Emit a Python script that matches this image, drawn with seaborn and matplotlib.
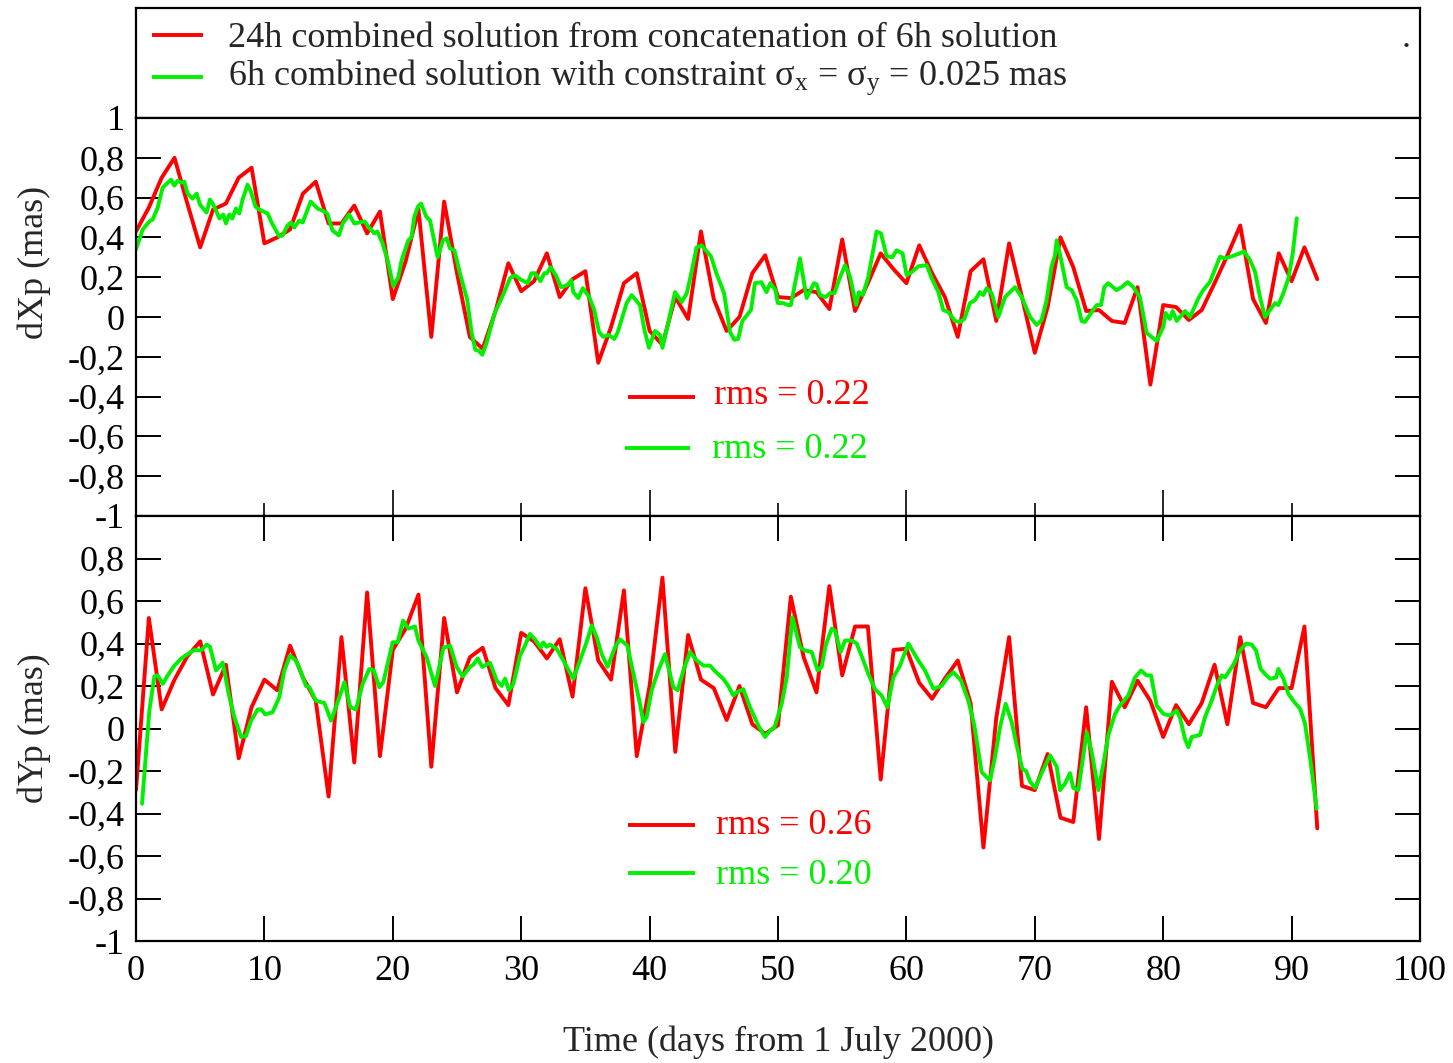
import numpy as np
import pandas as pd
import seaborn as sns
import matplotlib
matplotlib.use("Agg")
import matplotlib.pyplot as plt
from matplotlib.ticker import MultipleLocator, FuncFormatter

# ---------------- data ----------------
red_days = list(range(0, 93))
red_top = [0.43, 0.55, 0.70, 0.80, 0.57, 0.35, 0.54, 0.57, 0.70, 0.75,
           0.37, 0.40, 0.44, 0.62, 0.68, 0.47, 0.47, 0.56, 0.42, 0.53,
           0.09, 0.28, 0.54, -0.10, 0.58, 0.22, -0.10, -0.16, 0.03, 0.27,
           0.13, 0.18, 0.32, 0.10, 0.19, 0.23, -0.23, -0.05, 0.17, 0.22,
           -0.07, -0.14, 0.10, -0.01, 0.43, 0.09, -0.07, 0.00, 0.22, 0.31,
           0.10, 0.095, 0.135, 0.125, 0.04, 0.39, 0.03, 0.17, 0.32, 0.24,
           0.17, 0.36, 0.22, 0.10, -0.10, 0.23, 0.29, -0.02, 0.37, 0.10,
           -0.18, 0.05, 0.40, 0.25, 0.03, 0.035, -0.02, -0.03, 0.15, -0.34,
           0.06, 0.05, -0.015, 0.035, 0.17, 0.31, 0.46, 0.09, -0.03, 0.32,
           0.18, 0.35, 0.19]
red_bot = [-0.29, 0.52, 0.09, 0.23, 0.34, 0.41, 0.16, 0.30, -0.14, 0.10,
           0.23, 0.18, 0.39, 0.24, 0.13, -0.32, 0.43, -0.16, 0.64, -0.13,
           0.37, 0.47, 0.63, -0.18, 0.52, 0.17, 0.335, 0.38, 0.19, 0.11,
           0.45, 0.41, 0.33, 0.42, 0.15, 0.66, 0.32, 0.23, 0.65, -0.13,
           0.20, 0.71, -0.11, 0.44, 0.23, 0.19, 0.04, 0.20, 0.02, -0.025,
           0.015, 0.62, 0.335, 0.17, 0.67, 0.25, 0.48, 0.48, -0.24, 0.37,
           0.375, 0.215, 0.14, 0.235, 0.32, 0.12, -0.56, 0.05, 0.43, -0.27,
           -0.29, -0.12, -0.42, -0.44, 0.10, -0.52, 0.22, 0.10, 0.225, 0.13,
           -0.04, 0.11, 0.02, 0.12, 0.30, 0.02, 0.43, 0.12, 0.10, 0.19,
           0.19, 0.48, -0.47]

green_top_days = [0.0, 0.52, 1.04, 1.3, 1.69, 2.07, 2.73, 2.98, 3.24, 3.5, 3.76, 4.02, 4.4, 4.72, 4.98,
                  5.5, 5.76, 6.02, 6.5, 6.8, 7.0, 7.27, 7.5, 7.78, 8.04, 8.3, 8.69, 8.95, 9.3, 9.6,
                  10.25, 10.6, 11.16, 11.42, 11.8, 12.07, 12.33, 12.72, 12.98, 13.6, 14.15, 14.67, 14.9,
                  15.3, 15.8, 16.1, 16.6, 17.0, 17.4, 17.8, 18.2, 18.56, 18.8, 19.2, 19.6, 20.04, 20.43,
                  20.69, 21.21, 21.45, 21.68, 21.96, 22.2, 22.6, 22.9, 23.49, 23.9, 24.2, 24.45, 24.8,
                  25.23, 25.8, 26.14, 26.43, 26.7, 26.97, 27.3, 27.96, 28.3, 28.75, 29.13, 29.5, 30.04,
                  30.5, 30.8, 31.07, 31.5, 31.8, 32.0, 32.29, 32.7, 33.1, 33.6, 33.9, 34.06, 34.45, 34.8,
                  35.3, 35.69, 36.06, 36.39, 36.8, 37.25, 37.5, 38.21, 38.6, 38.8, 39.25, 39.6, 39.95,
                  40.42, 40.8, 41.0, 41.5, 41.98, 42.5, 42.9, 43.3, 43.66, 44.05, 44.78, 45.2, 45.8,
                  46.26, 46.6, 46.9, 47.22, 47.9, 48.2, 48.7, 49.1, 49.4, 49.8, 49.98, 50.4, 50.8, 51.0,
                  51.71, 52.23, 52.8, 53.0, 53.27, 53.7, 54.05, 54.4, 54.8, 55.22, 55.6, 56.08, 56.3,
                  56.6, 57.03, 57.68, 58.02, 58.46, 58.9, 59.24, 59.7, 60.02, 60.5, 60.93, 61.58, 61.97,
                  62.49, 62.87, 63.26, 63.78, 64.17, 64.51, 64.95, 65.34, 65.73, 65.99, 66.25, 66.64,
                  67.16, 67.68, 68.46, 68.98, 69.63, 70.15, 70.53, 70.92, 71.31, 71.57, 71.7, 72.01,
                  72.48, 72.87, 73.26, 73.65, 73.91, 74.43, 74.82, 75.16, 75.41, 75.72, 76.37, 76.76,
                  77.23, 77.67, 78.19, 78.71, 79.49, 80.01, 80.19, 80.52, 80.74, 81.05, 81.7, 82.09,
                  82.74, 83.13, 83.65, 84.42, 84.81, 85.33, 85.98, 86.29, 86.76, 87.15, 87.54, 87.93,
                  88.32, 88.71, 88.97, 89.36, 89.75, 90.09, 90.4]
green_top_vals = [0.34, 0.44, 0.48, 0.49, 0.55, 0.65, 0.69, 0.66, 0.685, 0.675, 0.68, 0.62, 0.595, 0.62, 0.565,
                  0.525, 0.59, 0.565, 0.495, 0.515, 0.47, 0.515, 0.495, 0.545, 0.52, 0.59, 0.665, 0.63, 0.555, 0.54,
                  0.52, 0.47, 0.405, 0.41, 0.46, 0.475, 0.45, 0.485, 0.475, 0.58, 0.545, 0.53, 0.52,
                  0.435, 0.41, 0.47, 0.515, 0.47, 0.475, 0.48, 0.445, 0.42, 0.43, 0.37, 0.285, 0.155, 0.2,
                  0.286, 0.385, 0.40, 0.505, 0.555, 0.57, 0.505, 0.485, 0.30, 0.385, 0.395, 0.345, 0.335,
                  0.22, 0.085, -0.08, -0.165, -0.17, -0.19, -0.13, 0.025, 0.07, 0.135, 0.195, 0.21, 0.185,
                  0.17, 0.22, 0.22, 0.18, 0.22, 0.22, 0.25, 0.21, 0.15, 0.16, 0.185, 0.125, 0.095, 0.145,
                  0.10, 0.035, -0.075, -0.10, -0.09, -0.11, -0.08, 0.07, 0.11, 0.095, 0.06, -0.065, -0.155,
                  -0.07, -0.09, -0.155, -0.015, 0.125, 0.075, 0.12, 0.235, 0.35, 0.36, 0.305, 0.22, 0.12,
                  -0.075, -0.115, -0.11, -0.02, 0.035, 0.17, 0.175, 0.125, 0.17, 0.135, 0.07, 0.07, 0.06, 0.06,
                  0.295, 0.095, 0.17, 0.165, 0.11, 0.10, 0.12, 0.12, 0.195, 0.26, 0.205, 0.06, 0.125,
                  0.11, 0.20, 0.43, 0.42, 0.305, 0.30, 0.335, 0.32, 0.21, 0.23, 0.255, 0.26, 0.195,
                  0.125, 0.035, 0.025, -0.02, -0.025, -0.01, 0.07, 0.085, 0.125, 0.11, 0.145, 0.12,
                  0.0, 0.10, 0.15, 0.10, 0.0, -0.04, -0.015, 0.085, 0.255, 0.31, 0.385, 0.30,
                  0.15, 0.135, 0.085, -0.02, -0.025, 0.025, 0.06, 0.06, 0.15, 0.17, 0.135, 0.15,
                  0.175, 0.15, 0.10, -0.08, -0.12, -0.05, 0.02, -0.01, 0.03, -0.02, 0.03, 0.0,
                  0.094, 0.136, 0.177, 0.303, 0.295, 0.305, 0.32, 0.33, 0.286, 0.228, 0.10, 0.0,
                  0.035, 0.07, 0.06, 0.12, 0.194, 0.32, 0.496]

green_bot_days = [0.47, 1.04, 1.43, 1.69, 2.08, 2.47, 2.99, 3.5, 4.02, 4.54, 5.06, 5.5, 5.76, 6.23, 6.75,
                  7.22, 7.66, 8.18, 8.57, 8.96, 9.48, 9.74, 10.07, 10.64, 11.16, 11.55, 11.99, 12.46,
                  12.8, 13.24, 13.5, 14.02, 14.67, 15.19, 15.71, 16.23, 16.69, 17.13, 17.65, 18.17,
                  18.51, 18.95, 19.26, 19.99, 20.38, 20.8, 21.21, 21.73, 21.99, 22.64, 23.29, 23.94,
                  24.46, 24.97, 25.44, 26.01, 26.27, 26.61, 26.97, 27.57, 28.09, 28.48, 28.74, 29.05,
                  29.39, 29.91, 30.29, 30.68, 31.07, 31.52, 31.72, 31.98, 32.24, 32.76, 33.28, 34.06,
                  34.58, 35.09, 35.49, 35.88, 36.27, 36.73, 37.31, 37.69, 38.27, 38.86, 39.25, 39.51,
                  39.77, 40.16, 40.68, 41.2, 41.85, 42.19, 42.63, 43.15, 43.67, 44.19, 44.71, 45.09,
                  45.74, 46.13, 46.52, 46.78, 47.3, 47.82, 48.47, 48.99, 49.38, 49.72, 50.29, 50.68,
                  51.12, 51.71, 52.1, 52.62, 53.09, 53.4, 53.71, 54.18, 54.44, 54.88, 55.22, 55.74,
                  56.13, 56.65, 57.03, 57.55, 58.07, 58.52, 58.98, 59.5, 60.15, 60.93, 61.45, 62.1,
                  62.74, 63.21, 63.66, 64.25, 64.83, 65.29, 65.86, 66.51, 66.9, 67.29, 67.73, 68.2,
                  68.59, 69.03, 69.32, 69.63, 70.02, 70.53, 71.19, 71.71, 71.96, 72.35, 72.74, 73.0,
                  73.39, 74.04, 74.43, 74.95, 75.34, 75.72, 76.25, 76.63, 77.28, 77.8, 78.27, 78.71,
                  79.05, 79.49, 80.01, 80.53, 81.05, 81.31, 81.7, 81.96, 82.22, 82.87, 83.26, 83.77,
                  84.17, 84.55, 84.81, 85.47, 85.98, 86.45, 86.89, 87.23, 87.59, 87.93, 88.32, 88.79,
                  88.97, 89.36, 89.75, 90.27, 90.66, 91.05, 91.43, 91.95]
green_bot_vals = [-0.354, 0.085, 0.245, 0.25, 0.21, 0.25, 0.296, 0.328, 0.35, 0.37, 0.367, 0.395, 0.385, 0.273, 0.31,
                  0.163, 0.053, -0.04, -0.035, 0.037, 0.09, 0.09, 0.066, 0.077, 0.147, 0.273, 0.343, 0.32,
                  0.273, 0.2, 0.195, 0.13, 0.12, 0.037, 0.125, 0.218, 0.10, 0.09, 0.21, 0.28,
                  0.275, 0.194, 0.218, 0.406, 0.406, 0.508, 0.47, 0.48, 0.414, 0.335, 0.2, 0.38,
                  0.39, 0.29, 0.245, 0.29, 0.30, 0.33, 0.29, 0.31, 0.226, 0.20, 0.235, 0.18,
                  0.21, 0.343, 0.39, 0.445, 0.42, 0.38, 0.405, 0.385, 0.395, 0.375, 0.32, 0.234,
                  0.32, 0.406, 0.485, 0.43, 0.35, 0.29, 0.383, 0.42, 0.39, 0.226, 0.116, 0.03,
                  0.053, 0.18, 0.273, 0.35, 0.194, 0.18, 0.273, 0.36, 0.32, 0.296, 0.296, 0.27,
                  0.234, 0.2, 0.155, 0.17, 0.185, 0.10, 0.014, -0.04, -0.01, 0.005, 0.116, 0.24,
                  0.524, 0.383, 0.367, 0.36, 0.273, 0.29, 0.39, 0.47, 0.46, 0.36, 0.414, 0.414,
                  0.40, 0.32, 0.257, 0.185, 0.155, 0.10, 0.24, 0.296, 0.40, 0.32, 0.273, 0.187,
                  0.2, 0.24, 0.265, 0.226, 0.13, 0.014, -0.205, -0.245, -0.135, 0.006, 0.116, 0.03,
                  -0.08, -0.19, -0.2, -0.25, -0.28, -0.21, -0.127, -0.18, -0.29, -0.26, -0.21, -0.28,
                  -0.29, -0.017, -0.11, -0.29, -0.166, -0.033, 0.069, 0.108, 0.155, 0.24, 0.273, 0.25,
                  0.25, 0.108, 0.069, 0.061, 0.085, 0.05, -0.05, -0.088, -0.04, -0.03, 0.054, 0.13,
                  0.2, 0.25, 0.24, 0.30, 0.367, 0.40, 0.395, 0.367, 0.28, 0.257, 0.234, 0.24,
                  0.28, 0.234, 0.163, 0.12, 0.093, 0.022, -0.135, -0.378]

legend_labels = ["24h combined solution from concatenation of 6h solution",
                 r"6h combined solution with constraint $\mathrm{\sigma_x}$ = $\mathrm{\sigma_y}$ = 0.025 mas"]
rms_top = ["rms = 0.22", "rms = 0.22"]
rms_bot = ["rms = 0.26", "rms = 0.20"]
ylabel_top = "dXp (mas)"
ylabel_bot = "dYp (mas)"
xlabel = "Time (days from 1 July 2000)"

RED = "#ff0000"
GREEN = "#00f000"

# ---------------- style ----------------
sns.set_style("ticks")
plt.rcParams["font.family"] = ["Liberation Serif", "DejaVu Serif"]
plt.rcParams["mathtext.fontset"] = "custom"
plt.rcParams["mathtext.rm"] = "Liberation Serif"
plt.rcParams["mathtext.it"] = "Liberation Serif:italic"
FS = 26

W, H = 1453, 1063
fig = plt.figure(figsize=(W / 100, H / 100), dpi=100)
fig.patch.set_facecolor("white")


def ax_px(l, t, r, b):
    return fig.add_axes([l / W, 1 - b / H, (r - l) / W, (b - t) / H])


leg = ax_px(136, 8, 1420, 118)
ax1 = ax_px(136, 118, 1420, 516)
ax2 = ax_px(136, 516, 1420, 941)

df_rt = pd.DataFrame({"day": red_days, "v": red_top})
df_gt = pd.DataFrame({"day": green_top_days, "v": green_top_vals})
df_rb = pd.DataFrame({"day": red_days, "v": red_bot})
df_gb = pd.DataFrame({"day": green_bot_days, "v": green_bot_vals})

LW = 2.8
for ax, dr, dg in [(ax1, df_rt, df_gt), (ax2, df_rb, df_gb)]:
    sns.lineplot(data=dr, x="day", y="v", color=RED, lw=LW, ax=ax,
                 estimator=None, sort=False, legend=False)
    sns.lineplot(data=dg, x="day", y="v", color=GREEN, lw=LW, ax=ax,
                 estimator=None, sort=False, legend=False)
    ax.set_xlim(0, 100)
    ax.set_ylim(-1, 1)
    ax.set_xlabel("")
    ax.set_ylabel("")
    for s in ax.spines.values():
        s.set_visible(True)
        s.set_linewidth(1.6)
        s.set_color("black")
    ax.yaxis.set_major_locator(MultipleLocator(0.2))


def fmt(v, pos):
    if abs(v) < 1e-9:
        return "0"
    s = f"{v:.1f}".replace(".", ",")
    if s.endswith(",0"):
        s = s[:-2]
    return s


def fmt_bot(v, pos):
    if v > 0.95:
        return ""
    return fmt(v, pos)


ax1.yaxis.set_major_formatter(FuncFormatter(fmt))
ax2.yaxis.set_major_formatter(FuncFormatter(fmt_bot))

# top panel ticks
ax1.tick_params(axis="y", which="major", direction="in", length=18, width=1.4,
                left=True, right=True, labelsize=FS, pad=8, colors="black")
ax1.xaxis.set_major_locator(MultipleLocator(20))
ax1.xaxis.set_minor_locator(MultipleLocator(10))
ax1.tick_params(axis="x", which="major", direction="in", length=19, width=1.4,
                bottom=True, top=False, labelbottom=False)
ax1.tick_params(axis="x", which="minor", direction="in", length=9.5, width=1.4,
                bottom=True, top=False)

# bottom panel ticks
ax2.tick_params(axis="y", which="major", direction="in", length=18, width=1.4,
                left=True, right=True, labelsize=FS, pad=8, colors="black")
ax2.xaxis.set_major_locator(MultipleLocator(10))
ax2.tick_params(axis="x", which="major", direction="in", length=18, width=1.4,
                bottom=True, top=True, labelsize=FS, pad=10, colors="black")

# axis labels
ax1.set_ylabel(ylabel_top, fontsize=FS)
ax1.yaxis.set_label_coords(-0.066, 0.638)
ax2.set_ylabel(ylabel_bot, fontsize=FS)
ax2.yaxis.set_label_coords(-0.066, 0.50)
fig.text(778 / W, 1 - 1042 / H, xlabel, fontsize=FS, ha="center", va="center")

# rms annotations (legend-like)
def rms(ax, y_line, y_txt, x0, x1, xt, txt, color):
    ax.plot([x0, x1], [y_line, y_line], color=color, lw=LW, transform=ax.transAxes,
            solid_capstyle="butt")
    ax.text(xt, y_txt, txt, color=color, fontsize=FS, transform=ax.transAxes,
            ha="left", va="center")

L = 1284.0
rms(ax1, (516 - 397) / 398, (516 - 396) / 398, (628 - 136) / L, (695 - 136) / L, (714 - 136) / L, rms_top[0], RED)
rms(ax1, (516 - 448) / 398, (516 - 450) / 398, (625 - 136) / L, (690 - 136) / L, (712 - 136) / L, rms_top[1], GREEN)
rms(ax2, (941 - 825) / 425, (941 - 826) / 425, (628 - 136) / L, (695 - 136) / L, (716 - 136) / L, rms_bot[0], RED)
rms(ax2, (941 - 873) / 425, (941 - 876) / 425, (628 - 136) / L, (695 - 136) / L, (716 - 136) / L, rms_bot[1], GREEN)

# legend box
leg.set_xlim(0, 1284)
leg.set_ylim(110, 0)
leg.set_xticks([])
leg.set_yticks([])
for s in leg.spines.values():
    s.set_visible(True)
    s.set_linewidth(1.6)
    s.set_color("black")
leg.plot([16, 67], [27, 27], color=RED, lw=LW, solid_capstyle="butt")
leg.plot([16, 67], [69, 69], color=GREEN, lw=LW, solid_capstyle="butt")
leg.text(92, 39, legend_labels[0], fontsize=FS, ha="left", va="baseline")
leg.text(92, 77, legend_labels[1], fontsize=FS, ha="left", va="baseline")
leg.text(1266, 39, ".", fontsize=FS, ha="left", va="baseline")

fig.savefig("out.png", dpi=100, facecolor="white")
